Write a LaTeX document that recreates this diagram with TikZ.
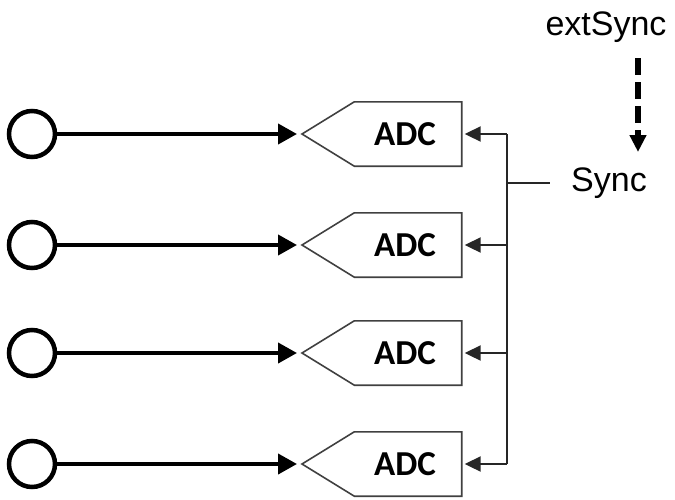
\documentclass[tikz,border=0pt]{standalone}
\usepackage{fontspec}
\setmainfont{Liberation Sans}
\newfontfamily\adcfont{Carlito}
\usetikzlibrary{arrows.meta}
\tikzset{
  adcbox/.style={minimum width=107pt, minimum height=64pt, inner sep=0pt, font=\adcfont\bfseries\fontsize{35}{35}\selectfont},
  boxline/.style={draw=black!75, line width=1.6pt, line join=miter},
  port/.style={circle, draw, line width=4.5pt, minimum size=46pt, inner sep=0pt},
  mainarrow/.style={line width=4pt, -{Triangle[length=19pt,width=20pt]}},
  busline/.style={line width=2pt, black!85},
  syncarrow/.style={line width=2pt, black!85, -{Triangle[length=16pt,width=15pt]}},
  lbl/.style={font=\fontsize{34}{34}\selectfont, inner sep=0pt},
  dasharrow/.style={line width=6pt, dash pattern=on 17pt off 7pt, -{Triangle[length=17pt,width=16pt]}}
}
\begin{document}
\begin{tikzpicture}[x=1pt,y=-1pt]
\useasboundingbox (0,0) rectangle (675,499);
\foreach \i/\y in {1/134,2/245,3/353,4/464}{
  \node[port] (c\i) at (32,\y) {};
  \node[adcbox] (a\i) at (405,\y) {ADC};
  \coordinate (p\i) at (302,\y);
  \draw[boxline] ([xshift=3pt]a\i.north west) -- ([xshift=3pt]a\i.north east) -- ([xshift=3pt]a\i.south east) -- ([xshift=3pt]a\i.south west) -- (p\i) -- cycle;
  \draw[mainarrow] (c\i) -- ([xshift=-5pt]p\i);
  \coordinate (b\i) at (507,\y);
  \draw[syncarrow] (b\i) -- ([xshift=6pt]a\i.east);
}
\draw[busline] (b1) -- (b4);
\node[lbl, anchor=west] (sync) at (571,183) {Sync};
\coordinate (bs) at (507,183);
\draw[busline] (bs) -- ([xshift=-21pt]sync.west);
\node[lbl] (ext) at (606,27) {extSync};
\coordinate (dtop) at (638,58);
\coordinate (dbot) at (638,152);
\draw[dasharrow] (dtop) -- (dbot);
\end{tikzpicture}
\end{document}
